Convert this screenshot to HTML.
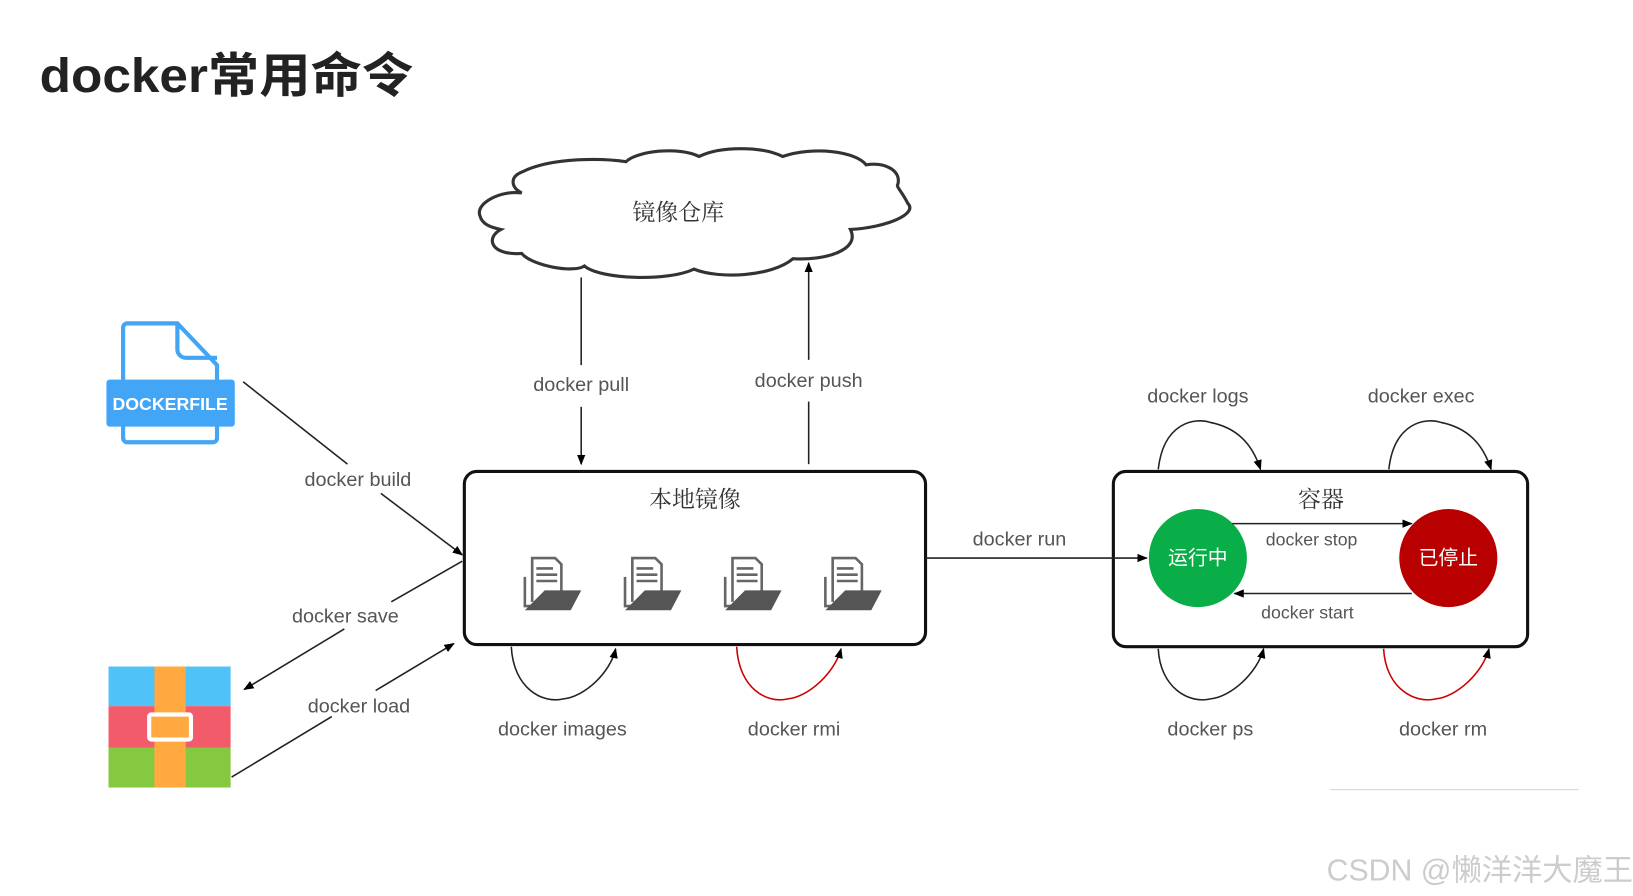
<!DOCTYPE html>
<html><head><meta charset="utf-8"><style>
html,body{margin:0;padding:0;background:#fff;}
svg{display:block;}
text{font-family:"Liberation Sans","Noto Sans CJK SC",sans-serif;}
.lbl{font-size:19px;fill:#555;}
.cn{font-family:"Noto Serif CJK SC","Liberation Serif",serif;font-size:22px;fill:#333;}
</style></head><body>
<svg width="1633" height="896" viewBox="0 0 1565 859" preserveAspectRatio="none" xmlns="http://www.w3.org/2000/svg">
<defs>
<marker id="a" markerWidth="10" markerHeight="10" refX="9" refY="5" orient="auto" markerUnits="userSpaceOnUse"><path d="M0,1 L10,5 L0,9 z" fill="#000"/></marker>
<g id="fi">
<path d="M3,20 v28 h8" fill="none" stroke="#666" stroke-width="2.5"/>
<path d="M10,44 V2 h22 l6,6 v30" fill="none" stroke="#666" stroke-width="2.5"/>
<line x1="14" y1="12" x2="30" y2="12" stroke="#666" stroke-width="2.5"/>
<line x1="14" y1="18" x2="34" y2="18" stroke="#666" stroke-width="2.5"/>
<line x1="14" y1="24" x2="34" y2="24" stroke="#666" stroke-width="2.5"/>
<path d="M22,33 h35 l-10,19 h-44 z" fill="#555"/>
</g>
</defs>
<text x="38" y="88" font-size="46" font-weight="bold" fill="#222" textLength="358" lengthAdjust="spacingAndGlyphs">docker常用命令</text>

<!-- cloud -->
<path d="M500,185 C480,182 455,195 460,207 C462,215 470,218 480,220 C465,228 470,245 500,243 C510,255 550,262 560,255 C575,268 640,270 665,258 C690,268 740,265 760,248 C790,250 825,240 815,220 C850,218 880,205 870,195 C865,185 860,180 860,178 C865,165 850,155 830,158 C820,145 780,140 750,150 C730,140 690,140 670,150 C650,140 610,145 600,155 C580,152 530,150 500,165 C488,170 490,180 500,185 Z" fill="#fff" stroke="#333" stroke-width="3"/>
<text class="cn" x="650" y="211" text-anchor="middle">镜像仓库</text>

<!-- pull/push -->
<line x1="557" y1="266" x2="557" y2="350" stroke="#222" stroke-width="1.5"/>
<line x1="557" y1="390" x2="557" y2="445" stroke="#222" stroke-width="1.5" marker-end="url(#a)"/>
<text class="lbl" x="557" y="375" text-anchor="middle">docker pull</text>
<line x1="775" y1="445" x2="775" y2="385" stroke="#222" stroke-width="1.5"/>
<line x1="775" y1="345" x2="775" y2="252" stroke="#222" stroke-width="1.5" marker-end="url(#a)"/>
<text class="lbl" x="775" y="371" text-anchor="middle">docker push</text>

<!-- local image box -->
<rect x="445" y="452" width="442" height="166" rx="12" fill="#fff" stroke="#111" stroke-width="3"/>
<text class="cn" x="666" y="486" text-anchor="middle">本地镜像</text>
<use href="#fi" x="500" y="533"/>
<use href="#fi" x="596" y="533"/>
<use href="#fi" x="692" y="533"/>
<use href="#fi" x="788" y="533"/>

<!-- loops under local -->
<path d="M490,620 C492,660 520,675 540,670 C560,668 585,645 590,622" fill="none" stroke="#222" stroke-width="1.5" marker-end="url(#a)"/>
<path d="M706,620 C708,660 735,675 755,670 C775,668 800,645 806,622" fill="none" stroke="#c00" stroke-width="1.5" marker-end="url(#a)"/>
<text class="lbl" x="539" y="705" text-anchor="middle">docker images</text>
<text class="lbl" x="761" y="705" text-anchor="middle">docker rmi</text>

<!-- dockerfile icon -->
<path d="M124,310 h46 l38,40 v70 a4,4 0 0 1 -4,4 h-82 a4,4 0 0 1 -4,-4 v-106 a4,4 0 0 1 4,-4 z" fill="#fff" stroke="#42a5f5" stroke-width="4"/>
<path d="M170,310 v25 a8,8 0 0 0 8,8 h30" fill="none" stroke="#42a5f5" stroke-width="4"/>
<rect x="102" y="364" width="123" height="45" rx="3" fill="#42a5f5"/>
<text x="163" y="393" text-anchor="middle" font-size="17" font-weight="bold" fill="#fff">DOCKERFILE</text>

<!-- archive icon -->
<rect x="104" y="639" width="117" height="38" fill="#4fc3f7"/>
<rect x="104" y="677" width="117" height="40" fill="#f25c6a"/>
<rect x="104" y="717" width="117" height="38" fill="#84c940"/>
<rect x="148" y="639" width="30" height="116" fill="#ffa940"/>
<rect x="143" y="685" width="40" height="24" rx="2" fill="#ffa940" stroke="#fff" stroke-width="4"/>

<!-- build/save/load -->
<line x1="233" y1="366" x2="333" y2="445" stroke="#222" stroke-width="1.5"/>
<line x1="365" y1="473" x2="443" y2="532" stroke="#222" stroke-width="1.5" marker-end="url(#a)"/>
<text class="lbl" x="343" y="466" text-anchor="middle">docker build</text>
<line x1="443" y1="538" x2="375" y2="577" stroke="#222" stroke-width="1.5"/>
<line x1="330" y1="603" x2="234" y2="661" stroke="#222" stroke-width="1.5" marker-end="url(#a)"/>
<text class="lbl" x="331" y="597" text-anchor="middle">docker save</text>
<line x1="222" y1="745" x2="318" y2="687" stroke="#222" stroke-width="1.5"/>
<line x1="360" y1="662" x2="435" y2="617" stroke="#222" stroke-width="1.5" marker-end="url(#a)"/>
<text class="lbl" x="344" y="683" text-anchor="middle">docker load</text>

<!-- container box -->
<rect x="1067" y="452" width="397" height="168" rx="12" fill="#fff" stroke="#111" stroke-width="3"/>
<text class="cn" x="1266" y="486" text-anchor="middle">容器</text>

<!-- run -->
<line x1="887" y1="535" x2="1099" y2="535" stroke="#222" stroke-width="1.5" marker-end="url(#a)"/>
<text class="lbl" x="977" y="523" text-anchor="middle">docker run</text>

<circle cx="1148" cy="535" r="47" fill="#0aae48"/>
<text x="1148" y="541" text-anchor="middle" font-size="19" fill="#fff">运行中</text>
<circle cx="1388" cy="535" r="47" fill="#b80000"/>
<text x="1388" y="541" text-anchor="middle" font-size="19" fill="#fff">已停止</text>
<line x1="1181" y1="502" x2="1353" y2="502" stroke="#222" stroke-width="1.5" marker-end="url(#a)"/>
<line x1="1353" y1="569" x2="1183" y2="569" stroke="#222" stroke-width="1.5" marker-end="url(#a)"/>
<text class="lbl" x="1257" y="523" text-anchor="middle" style="font-size:17px">docker stop</text>
<text class="lbl" x="1253" y="593" text-anchor="middle" style="font-size:17px">docker start</text>

<!-- loops top -->
<path d="M1110,450 C1115,405 1145,400 1160,405 C1185,410 1200,425 1208,450" fill="none" stroke="#222" stroke-width="1.5" marker-end="url(#a)"/>
<path d="M1331,450 C1336,405 1366,400 1381,405 C1406,410 1421,425 1429,450" fill="none" stroke="#222" stroke-width="1.5" marker-end="url(#a)"/>
<text class="lbl" x="1148" y="386" text-anchor="middle">docker logs</text>
<text class="lbl" x="1362" y="386" text-anchor="middle">docker exec</text>
<!-- loops bottom -->
<path d="M1110,622 C1112,660 1140,675 1160,670 C1180,668 1205,645 1211,622" fill="none" stroke="#222" stroke-width="1.5" marker-end="url(#a)"/>
<path d="M1326,622 C1328,660 1356,675 1376,670 C1396,668 1421,645 1427,622" fill="none" stroke="#c00" stroke-width="1.5" marker-end="url(#a)"/>
<text class="lbl" x="1160" y="705" text-anchor="middle">docker ps</text>
<text class="lbl" x="1383" y="705" text-anchor="middle">docker rm</text>

<line x1="1275" y1="757" x2="1513" y2="757" stroke="#e8c8d0" stroke-width="1"/>
<text x="1565" y="844" text-anchor="end" font-size="29" fill="#ccc">CSDN @懒洋洋大魔王</text>
</svg>
</body></html>
